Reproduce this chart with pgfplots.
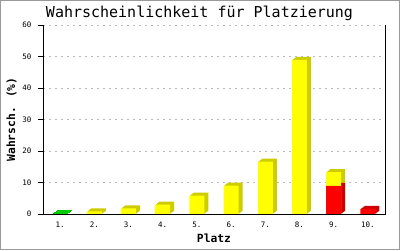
\documentclass[border=0pt]{standalone}
\usepackage{pgfplots}
\pgfplotsset{compat=1.18}
\usepackage{pgfplotstable}
\usepackage{fontspec}
\setmainfont{DejaVu Sans Mono}
\definecolor{fy}{HTML}{FFFF00}
\definecolor{dy}{HTML}{CCCC00}
\definecolor{fr}{HTML}{FF0000}
\definecolor{dr}{HTML}{CC0000}
\definecolor{gg}{HTML}{00CC00}
\definecolor{gridc}{HTML}{BBBBBB}
\definecolor{framec}{HTML}{999999}

\pgfplotstableread{
x y
2 0.8
3 1.8
4 2.95
5 5.8
6 9.0
7 16.6
8 48.9
9 13.3
}\yellowdata
\pgfplotstableread{
x y
9 8.9
10 1.6
}\reddata
\pgfplotstableread{
x y
1 0.25
}\greendata

\pgfplotsset{
  bb/.style={ybar, bar width=15pt, bar shift=0pt, draw=none},
}

\begin{document}
\begin{tikzpicture}
\begin{axis}[
  at={(0pt,0pt)}, anchor=south west,
  scale only axis, width=342pt, height=189pt,
  xmin=0.5, xmax=10.5, ymin=0, ymax=60,
  xtick={1,...,10},
  xticklabels={1.,2.,3.,4.,5.,6.,7.,8.,9.,10.},
  ytick={0,10,...,60},
  axis x line*=bottom, axis y line*=left,
  x axis line style={-, line width=0.8pt},
  y axis line style={-, line width=0.8pt},
  tick align=outside,
  major tick length=5pt,
  ytick style={line width=0.8pt, black},
  xtick style={draw=none},
  ymajorgrids,
  grid style={gridc, line width=0.8pt, dash pattern=on 2pt off 4pt},
  /pgf/number format/assume math mode=true,
  ticklabel style={font=\fontsize{7.5}{9}\selectfont},
  yticklabel style={xshift=-3pt},
  xticklabel style={yshift=1pt},
  clip=false,
]
% shadows (3D depth)
\addplot[bb, fill=dy, xshift=1pt, yshift=0.75pt] table {\yellowdata};
\addplot[bb, fill=dy, xshift=2pt, yshift=1.5pt] table {\yellowdata};
\addplot[bb, fill=dy, xshift=3pt, yshift=2.25pt] table {\yellowdata};
\addplot[bb, fill=dy, xshift=4pt, yshift=3pt] table {\yellowdata};
\addplot[bb, fill=dr, xshift=1pt, yshift=0.75pt] table {\reddata};
\addplot[bb, fill=dr, xshift=2pt, yshift=1.5pt] table {\reddata};
\addplot[bb, fill=dr, xshift=3pt, yshift=2.25pt] table {\reddata};
\addplot[bb, fill=dr, xshift=4pt, yshift=3pt] table {\reddata};
\addplot[bb, fill=gg, xshift=1pt, yshift=0.75pt] table {\greendata};
\addplot[bb, fill=gg, xshift=2pt, yshift=1.5pt] table {\greendata};
\addplot[bb, fill=gg, xshift=3pt, yshift=2.25pt] table {\greendata};
\addplot[bb, fill=gg, xshift=4pt, yshift=3pt] table {\greendata};
% front faces
\addplot[bb, fill=fy] table {\yellowdata};
\addplot[bb, fill=fr] table {\reddata};
\addplot[bb, fill=gg] table {\greendata};
\draw[line width=0.8pt] (rel axis cs:0,1) -- (rel axis cs:0,0) -- (rel axis cs:1,0) -- (rel axis cs:1,1);
\end{axis}
\node[anchor=base, font=\fontsize{15}{18}\selectfont] at (156.5pt,196.5pt) {Wahrscheinlichkeit für Platzierung};
\node[rotate=90, font=\bfseries\fontsize{11.3}{13}\selectfont] at (-31.5pt,94.5pt) {Wahrsch. (\%)};
\node[anchor=base, font=\bfseries\fontsize{11.3}{13}\selectfont] at (171pt,-28pt) {Platz};
\draw[framec, line width=1pt] (-42.5pt,-35.5pt) rectangle (356.5pt,213.5pt);
\pgfresetboundingbox
\useasboundingbox (-43pt,-36pt) rectangle (357pt,214pt);
\end{tikzpicture}
\end{document}
